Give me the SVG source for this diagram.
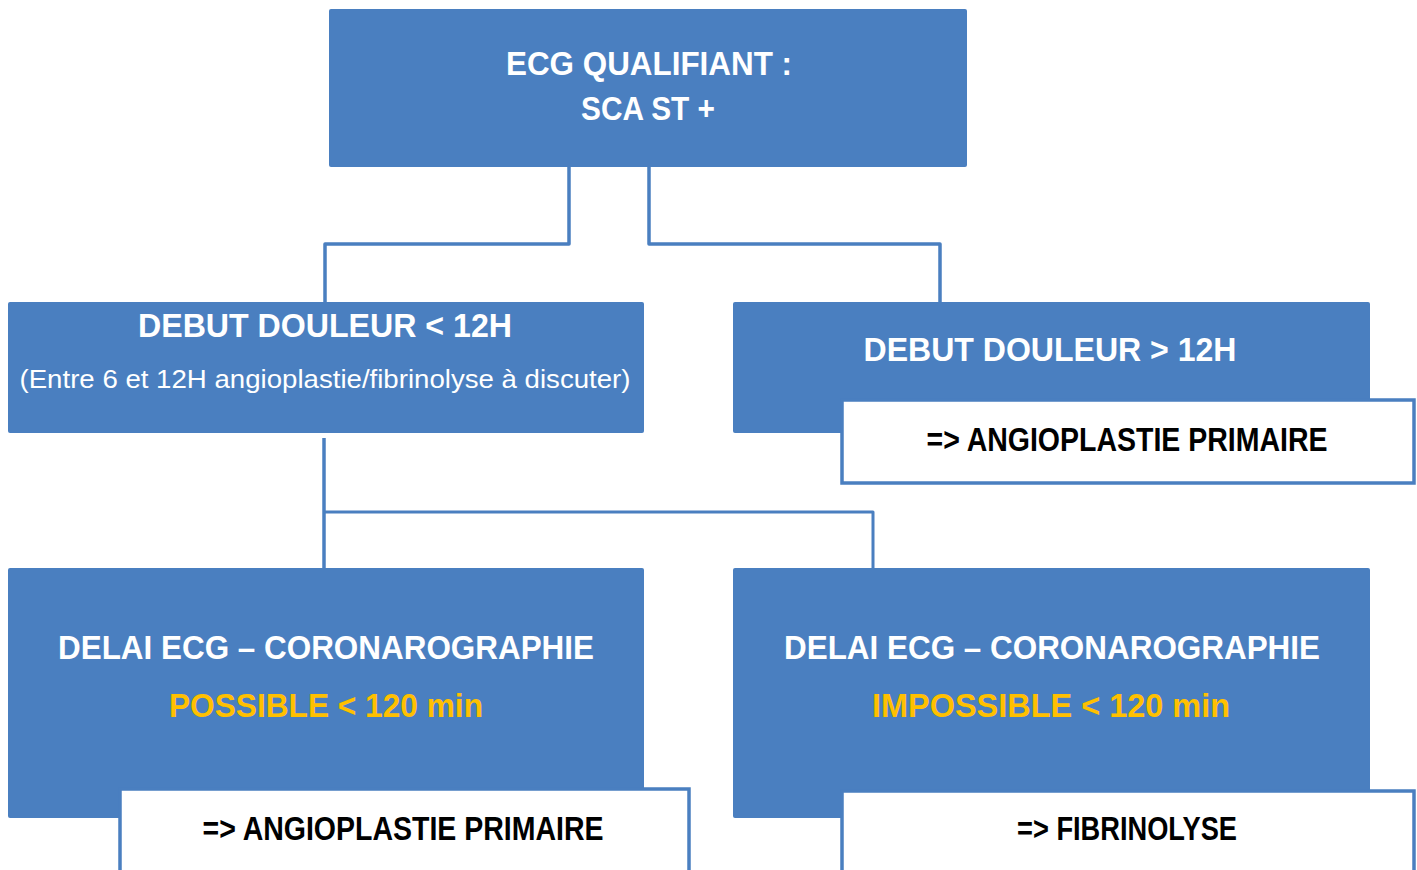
<svg xmlns="http://www.w3.org/2000/svg" width="1417" height="870" viewBox="0 0 1417 870">
<style>
.box{fill:#4a7fc0;}
.wbox{fill:#ffffff;stroke:#4a7fc0;stroke-width:3.5;}
.conn{fill:none;stroke:#4a7fc0;stroke-width:3.5;stroke-linejoin:round;}
.h{font-family:"Liberation Sans",Arial,sans-serif;font-weight:bold;font-size:34px;fill:#ffffff;text-anchor:middle;}
.s{font-family:"Liberation Sans",Arial,sans-serif;font-size:26px;fill:#ffffff;text-anchor:middle;}
.y{fill:#ffc000;}
.k{font-family:"Liberation Sans",Arial,sans-serif;font-weight:bold;font-size:33px;fill:#000000;text-anchor:middle;}
</style>
<rect width="1417" height="870" fill="#ffffff"/>
<g id="connectors">
<path class="conn" d="M569,167 V244 H325 V302"/>
<path class="conn" d="M649,167 V244 H940 V302"/>
<path class="conn" d="M324,438 V568"/>
<path class="conn" d="M324,512 H873 V568" style="stroke-width:3"/>
</g>
<g id="n_ecg">
<rect class="box" x="329" y="9" width="638" height="158" rx="2"/>
<text class="h" x="649" y="75" textLength="286" lengthAdjust="spacingAndGlyphs">ECG QUALIFIANT :</text>
<text class="h" x="648" y="120" textLength="134" lengthAdjust="spacingAndGlyphs">SCA ST +</text>
</g>
<g id="n_lt12">
<rect class="box" x="8" y="302" width="636" height="131" rx="2"/>
<text class="h" x="325" y="337" textLength="374" lengthAdjust="spacingAndGlyphs">DEBUT DOULEUR &lt; 12H</text>
<text class="s" x="325" y="388" textLength="611" lengthAdjust="spacingAndGlyphs">(Entre 6 et 12H angioplastie/fibrinolyse à discuter)</text>
</g>
<g id="n_gt12">
<rect class="box" x="733" y="302" width="637" height="131" rx="2"/>
<text class="h" x="1050" y="361" textLength="373" lengthAdjust="spacingAndGlyphs">DEBUT DOULEUR &gt; 12H</text>
<rect class="wbox" x="842" y="400" width="572" height="83"/>
<text class="k" x="1127" y="451" textLength="401" lengthAdjust="spacingAndGlyphs">=&gt; ANGIOPLASTIE PRIMAIRE</text>
</g>
<g id="n_possible">
<rect class="box" x="8" y="568" width="636" height="250" rx="2"/>
<text class="h" x="326" y="659" textLength="536" lengthAdjust="spacingAndGlyphs">DELAI ECG – CORONAROGRAPHIE</text>
<text class="h y" x="326" y="717" textLength="314" lengthAdjust="spacingAndGlyphs">POSSIBLE &lt; 120 min</text>
<rect class="wbox" x="120" y="789" width="569" height="85"/>
<text class="k" x="403" y="840" textLength="401" lengthAdjust="spacingAndGlyphs">=&gt; ANGIOPLASTIE PRIMAIRE</text>
</g>
<g id="n_impossible">
<rect class="box" x="733" y="568" width="637" height="250" rx="2"/>
<text class="h" x="1052" y="659" textLength="536" lengthAdjust="spacingAndGlyphs">DELAI ECG – CORONAROGRAPHIE</text>
<text class="h y" x="1051" y="717" textLength="358" lengthAdjust="spacingAndGlyphs">IMPOSSIBLE &lt; 120 min</text>
<rect class="wbox" x="842" y="791" width="572" height="83"/>
<text class="k" x="1127" y="840" textLength="220" lengthAdjust="spacingAndGlyphs">=&gt; FIBRINOLYSE</text>
</g>
</svg>
